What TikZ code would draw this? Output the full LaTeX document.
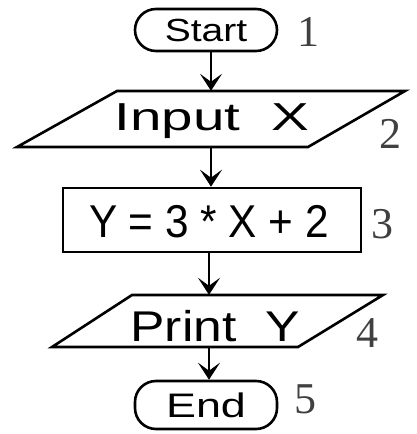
\documentclass[tikz,border=0pt]{standalone}
\usepackage{fontspec}
\setmainfont{Liberation Sans}
\newfontfamily\numfont{Liberation Serif}
\usetikzlibrary{arrows.meta}
\begin{document}
\begin{tikzpicture}[x=1pt,y=-1pt,
  outline/.style={draw, line width=2.6pt, line join=miter},
  term/.style={outline, rounded corners=21pt, minimum width=142pt, minimum height=42pt, inner sep=0pt},
  proc/.style={outline, minimum width=298pt, minimum height=64pt, inner sep=0pt},
  slot/.style={inner sep=0pt, minimum width=200pt},
  txt/.style={inner sep=0pt, anchor=center},
  lbl/.style={inner sep=0pt, font=\numfont\fontsize{44}{44}\selectfont, text=black!75},
  arr/.style={line width=2pt, -{Stealth[length=17pt,width=22pt,inset=8pt]}}]
\useasboundingbox (0,0) rectangle (416,434);
% terminals
\node[term, font=\fontsize{32}{32}\selectfont] (start) at (206,30) {\scalebox{1.22}[1]{Start}};
\node[term, font=\fontsize{34}{34}\selectfont, minimum height=48pt] (end) at (206,405) {\scalebox{1.32}[1]{End}};
% input parallelogram
\draw[outline] (17,147) -- (117,91) -- (405,91) -- (308,147) -- cycle;
\node[slot, minimum height=56pt] (input) at (211,119) {};
\node[txt, font=\fontsize{39}{39}\selectfont] (tin) at (212,121) {\scalebox{1.45}[1]{Input\ \ X}};
% process
\node[proc] (calc) at (212,220) {};
\node[txt, font=\fontsize{46}{46}\selectfont] (tcalc) at (209,222) {\scalebox{0.92}[1]{Y = 3 * X + 2}};
% print parallelogram
\draw[outline] (52,347) -- (132,295) -- (383,295) -- (298,347) -- cycle;
\node[slot, minimum height=52pt] (print) at (212,321) {};
\node[txt, font=\fontsize{43}{43}\selectfont] (tprint) at (215,326) {\scalebox{1.2}[1]{Print\ \ Y}};
% arrows
\draw[arr] (input.north |- start.south) -- (input.north);
\draw[arr] (input.south) -- (input.south |- calc.north);
\draw[arr] ([xshift=-3pt]calc.south) -- ([xshift=-3pt]calc.south |- print.north);
\draw[arr] ([xshift=3pt]end.north |- print.south) -- ([xshift=3pt]end.north);
% step numbers
\node[lbl] (n1) at (308,32) {1};
\node[lbl] (n2) at (390,134) {2};
\node[lbl] (n3) at (382,224) {3};
\node[lbl] (n4) at (367,333) {4};
\node[lbl] (n5) at (305,399) {5};
\end{tikzpicture}
\end{document}
